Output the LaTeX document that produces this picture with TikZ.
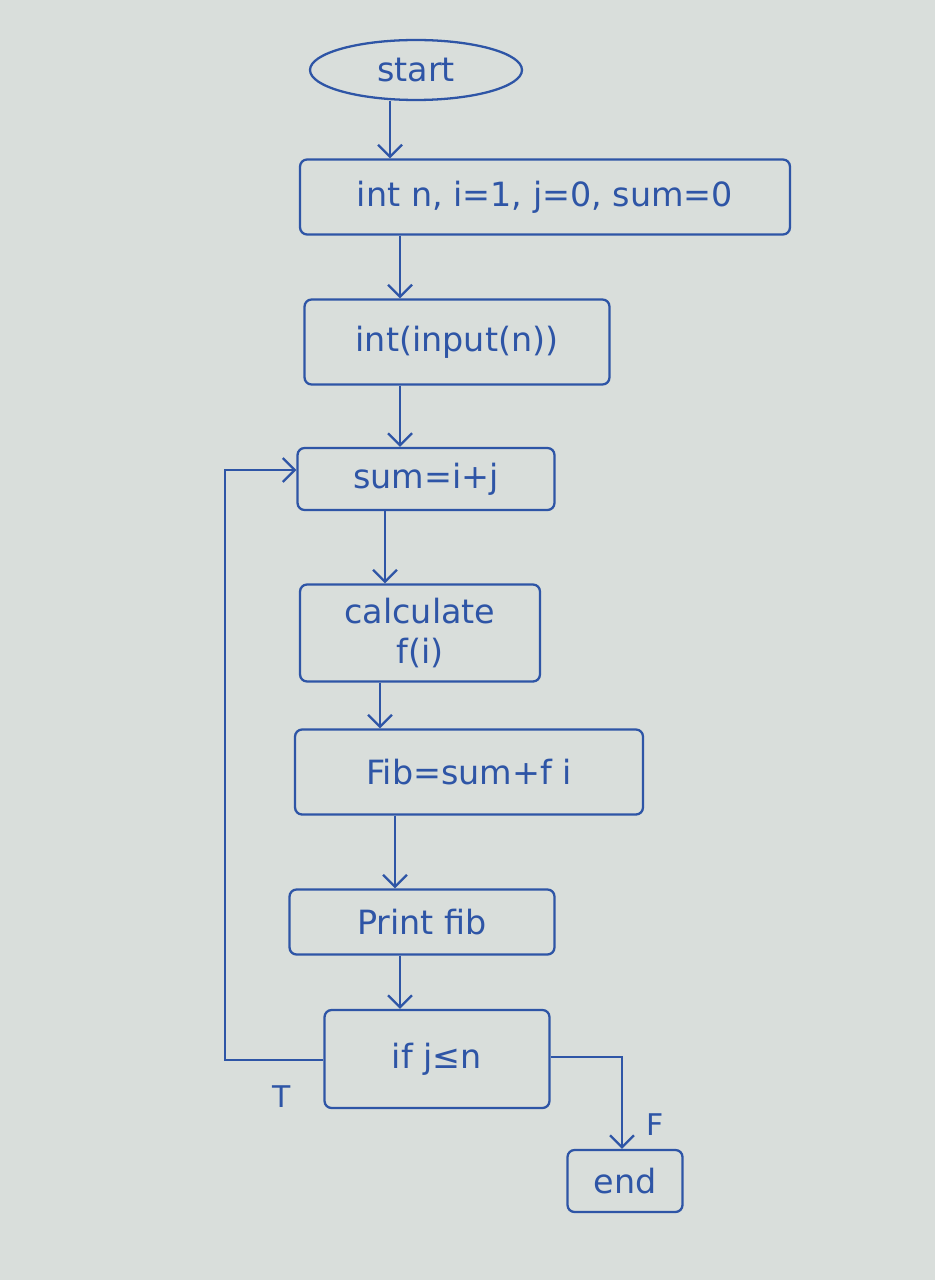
\documentclass[tikz,border=0pt]{standalone}
\usepackage{fontspec}
\setmainfont{DejaVu Sans}
\usepackage{tikz}
\usetikzlibrary{arrows.meta,calc,shapes.geometric}
\definecolor{InkBlue}{HTML}{2E55A6}
\definecolor{PaperGray}{HTML}{D9DEDB}

\begin{document}
\begin{tikzpicture}[x=0.02cm,y=-0.02cm,
      stepbox/.style={rectangle,rounded corners=4pt,draw=InkBlue,line width=1.3pt,
        text=InkBlue,font=\fontsize{19}{23}\selectfont},
      terminal/.style={ellipse,draw=InkBlue,line width=1.3pt,text=InkBlue,
        font=\fontsize{19}{23}\selectfont},
      flow/.style={-{Straight Barb[length=2.4mm]},line width=1.3pt,color=InkBlue},
      tag/.style={text=InkBlue,font=\fontsize{17}{20}\selectfont}
    ]
      \fill[PaperGray] (0,0) rectangle (935,1280);
      \useasboundingbox (0,0) rectangle (935,1280);
      \node[terminal,minimum width=4.24cm,minimum height=1.2cm] (start) at (416,70) {start};
      \node[stepbox,minimum width=9.8cm,minimum height=1.5cm] (init) at (545,197) {int n, i=1, j=0, sum=0};
      \node[stepbox,minimum width=6.1cm,minimum height=1.7cm] (input) at (457,342) {int(input(n))};
      \node[stepbox,minimum width=5.14cm,minimum height=1.24cm] (sum) at (426,479) {sum=i+j};
      \node[stepbox,minimum width=4.8cm,minimum height=1.94cm,align=center] (calc) at (420,633) {calculate\\f(i)};
      \node[stepbox,minimum width=6.96cm,minimum height=1.7cm] (fib) at (469,772) {Fib=sum+f i};
      \node[stepbox,minimum width=5.3cm,minimum height=1.3cm] (print) at (422,922) {Print fib};
      \node[stepbox,minimum width=4.5cm,minimum height=1.96cm] (cond) at (437,1059) {if j≤n};
      \node[stepbox,minimum width=2.3cm,minimum height=1.24cm] (stop) at (625,1181) {end};
      \coordinate (loopbot) at (225,1060);
      \coordinate (looptop) at (225,470);
      \coordinate (exitturn) at (622,1057);
      \draw[flow] (start.south -| 390,0) -- (init.north -| 390,0);
      \draw[flow] (init.south -| 400,0) -- (input.north -| 400,0);
      \draw[flow] (input.south -| 400,0) -- (sum.north -| 400,0);
      \draw[flow] (sum.south -| 385,0) -- (calc.north -| 385,0);
      \draw[flow] (calc.south -| 380,0) -- (fib.north -| 380,0);
      \draw[flow] (fib.south -| 395,0) -- (print.north -| 395,0);
      \draw[flow] (print.south -| 400,0) -- (cond.north -| 400,0);
      \draw[flow] (cond.west |- loopbot) -- (loopbot) -- (looptop) -- (sum.west |- looptop);
      \draw[flow] (cond.east |- exitturn) -- (exitturn) -- (exitturn |- stop.north);
      \node[tag] (truelabel) at (282,1097) {T};
      \node[tag] (falselabel) at (655,1125) {F};
    \end{tikzpicture}
\end{document}
